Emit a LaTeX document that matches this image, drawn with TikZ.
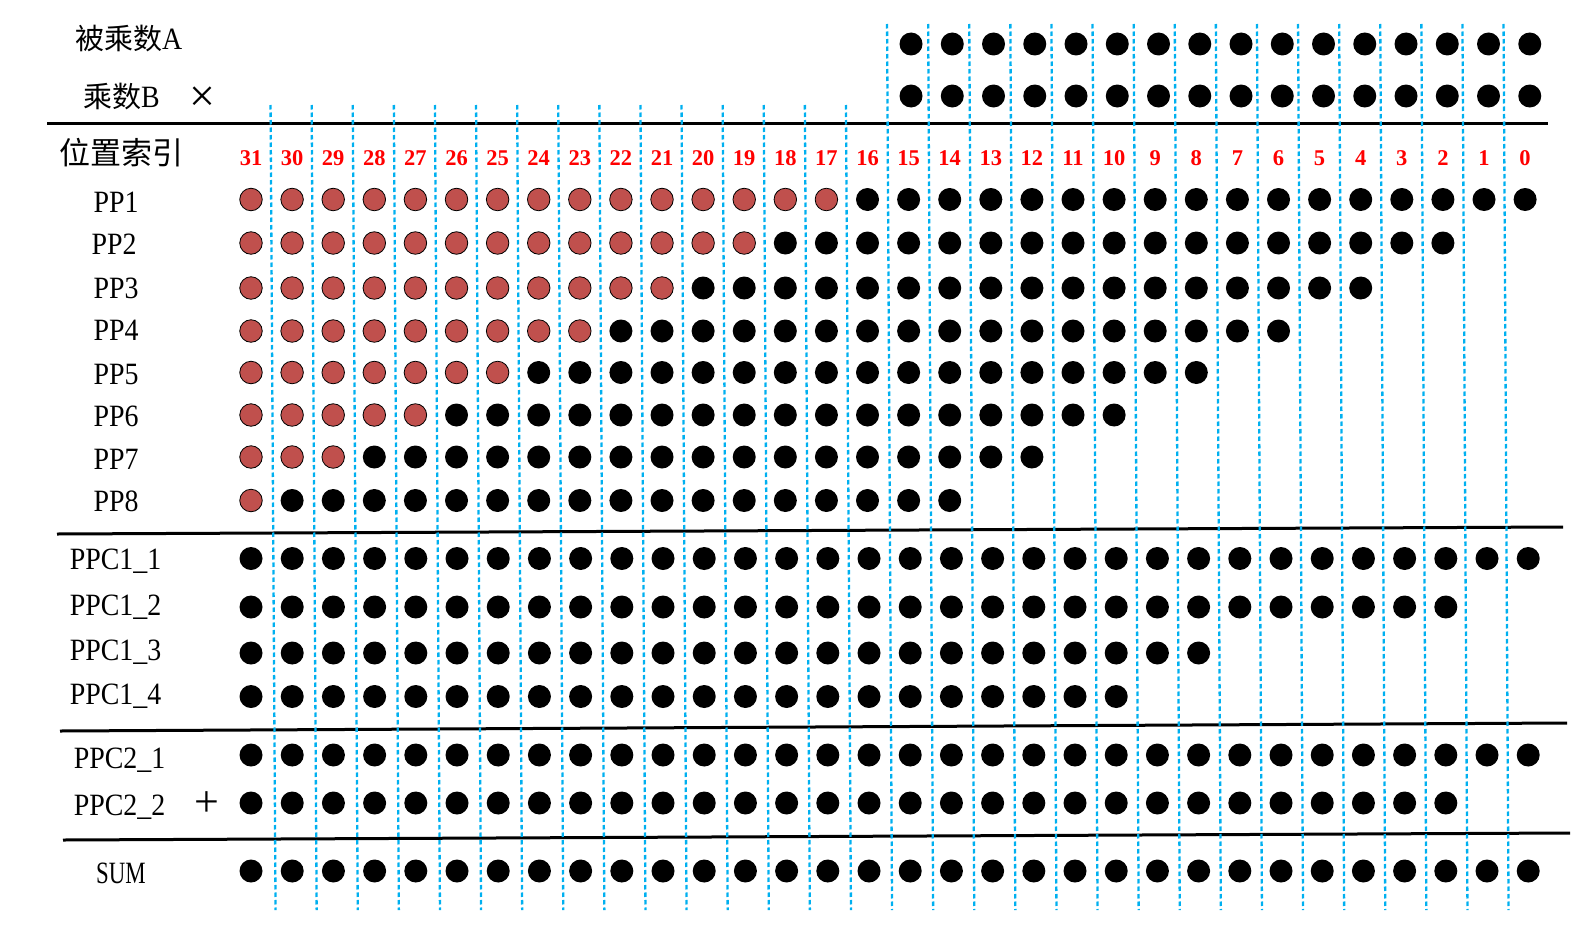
\documentclass[tikz,border=0pt]{standalone}
\usepackage{fontspec}
\setmainfont{Liberation Serif}
\newfontfamily\cjk{Noto Sans CJK SC}
\newfontfamily\lab{Liberation Serif}[FakeStretch=0.9]
\definecolor{dotred}{RGB}{192,80,77}
\definecolor{gridblue}{RGB}{0,176,240}
\newcommand\dotrow[6]{% #1 name, #2 y, #3 first col, #4 last col, #5 lowest red col, #6 spacing
  \foreach \c in {#3,...,#4}{%
    \pgfmathsetmacro\xx{251+(31-\c)*#6}%
    \ifnum\c<#5\relax
      \node[bdot] (#1-\c) at (\xx,#2) {};
    \else
      \node[rdot] (#1-\c) at (\xx,#2) {};
    \fi
  }}
\begin{document}
\begin{tikzpicture}[x=1pt,y=-1pt,
  bdot/.style={circle,fill=black,inner sep=0pt,minimum size=23pt},
  rdot/.style={circle,fill=dotred,draw=black,line width=0.8pt,inner sep=0pt,minimum size=22.5pt},
  gridline/.style={gridblue,line width=2.3pt,dash pattern=on 4.5pt off 3pt},
  rule/.style={black,line width=3pt},
  idx/.style={text=red,font=\fontsize{22.5}{22.5}\selectfont\bfseries,inner sep=0pt,anchor=base},
  lbl/.style={font=\lab\fontsize{31}{31}\selectfont,inner sep=0pt,anchor=base},
  cjklbl/.style={inner sep=0pt,anchor=base west}
]
\useasboundingbox[fill=white] (0,0) rectangle (1586,934);

% horizontal rules
\draw[rule] (47,123) -- (1548,123);
\draw[rule] (57,534) -- (1563,527);
\draw[rule] (60,731) -- (1567,723);
\draw[rule] (63,840) -- (1570,833);

% dashed column separators
\foreach \c in {31,...,1}{
  \pgfmathsetmacro\xm{251+(31-\c)*41.1+20.55}
  \pgfmathsetmacro\yt{\c>16 ? 105 : 24}
  \draw[gridline] (\xm-1,\yt) -- (\xm+4,910);
}

% labels
\node[cjklbl] (la) at (75,50) {\fontsize{29}{29}\selectfont\cjk 被乘数\lab\fontsize{31}{31}\selectfont A};
\node[cjklbl] (lb) at (83,107) {\fontsize{29}{29}\selectfont\cjk 乘数\lab\fontsize{31}{31}\selectfont B};
\node[inner sep=0pt] (times) at (202.5,99) {\fontsize{46}{46}\selectfont ×};
\node[cjklbl] (lidx) at (59,164) {\fontsize{31}{31}\selectfont\cjk 位置索引};

\foreach \c in {31,...,0}{
  \pgfmathsetmacro\xx{251+(31-\c)*41.1}
  \node[idx] (idx-\c) at (\xx,165) {\c};
}

\node[lbl] (lpp1) at (116,212) {PP1};
\node[lbl] (lpp2) at (114,254) {PP2};
\node[lbl] (lpp3) at (116,298) {PP3};
\node[lbl] (lpp4) at (116,340) {PP4};
\node[lbl] (lpp5) at (116,384) {PP5};
\node[lbl] (lpp6) at (116,426) {PP6};
\node[lbl] (lpp7) at (116,469) {PP7};
\node[lbl] (lpp8) at (116,511) {PP8};
\node[lbl] (lc11) at (115.5,569) {PPC1\_1};
\node[lbl] (lc12) at (115.5,615) {PPC1\_2};
\node[lbl] (lc13) at (115.5,660) {PPC1\_3};
\node[lbl] (lc14) at (115.5,704) {PPC1\_4};
\node[lbl] (lc21) at (119.5,768) {PPC2\_1};
\node[lbl] (lc22) at (119.5,815) {PPC2\_2};
\node[inner sep=0pt] (plus) at (206.5,804) {\fontsize{44}{44}\selectfont +};
\node[lbl] (lsum) at (121,883) {\scalebox{0.82}[1]{SUM}};

% dot rows
\dotrow{a}{44}{15}{0}{99}{41.25}
\dotrow{b}{96}{15}{0}{99}{41.25}
\dotrow{pp1}{199.5}{31}{0}{17}{41.1}
\dotrow{pp2}{243}{31}{2}{19}{41.1}
\dotrow{pp3}{288}{31}{4}{21}{41.1}
\dotrow{pp4}{331}{31}{6}{23}{41.1}
\dotrow{pp5}{372.5}{31}{8}{25}{41.1}
\dotrow{pp6}{415}{31}{10}{27}{41.1}
\dotrow{pp7}{457}{31}{12}{29}{41.1}
\dotrow{pp8}{500.5}{31}{14}{31}{41.1}
\dotrow{c11}{558.5}{31}{0}{99}{41.2}
\dotrow{c12}{607}{31}{2}{99}{41.2}
\dotrow{c13}{653}{31}{8}{99}{41.2}
\dotrow{c14}{696.5}{31}{10}{99}{41.2}
\dotrow{c21}{755}{31}{0}{99}{41.2}
\dotrow{c22}{803}{31}{2}{99}{41.2}
\dotrow{sum}{871}{31}{0}{99}{41.2}
\end{tikzpicture}
\end{document}
